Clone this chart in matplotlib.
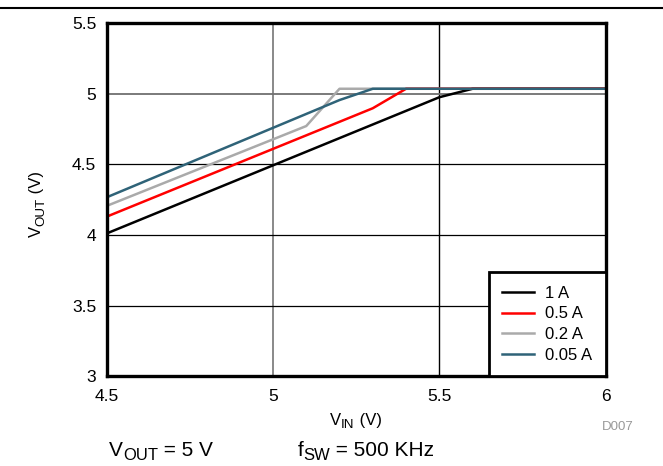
import matplotlib
matplotlib.use("Agg")
import matplotlib.pyplot as plt
from matplotlib.lines import Line2D

plt.rcParams['font.family'] = ['Liberation Sans', 'DejaVu Sans']

# Data
vin_1a = [4.5, 5.5, 5.6, 6.0]
vout_1a = [4.01, 4.975, 5.035, 5.035]
vin_05a = [4.5, 5.3, 5.4, 6.0]
vout_05a = [4.129, 4.897, 5.035, 5.035]
vin_02a = [4.5, 5.1, 5.2, 6.0]
vout_02a = [4.205, 4.771, 5.035, 5.035]
vin_005a = [4.5, 5.2, 5.3, 6.0]
vout_005a = [4.266, 4.955, 5.035, 5.035]
labels = ['1 A', '0.5 A', '0.2 A', '0.05 A']
colors = ['#000000', '#FF0000', '#AAAAAA', '#2F6378']
xticks = [4.5, 5, 5.5, 6]
xticklabels = ['4.5', '5', '5.5', '6']
yticks = [3, 3.5, 4, 4.5, 5, 5.5]
yticklabels = ['3', '3.5', '4', '4.5', '5', '5.5']

W, H = 663, 466
fig = plt.figure(figsize=(W / 100, H / 100), dpi=100)
ax = fig.add_axes([106.6 / W, 1 - 376.1 / H, (605.7 - 106.6) / W, (376.1 - 23.1) / H])

# grid
ax.axvline(5, color='#808080', lw=1.3, zorder=1)
ax.axvline(5.5, color='#000000', lw=1.0, zorder=1)
for yv in [3.5, 4, 4.5]:
    ax.axhline(yv, color='#000000', lw=0.9, zorder=1)
ax.axhline(5, color='#707070', lw=1.3, zorder=1)

series = [(vin_1a, vout_1a), (vin_05a, vout_05a), (vin_02a, vout_02a), (vin_005a, vout_005a)]
z = [3, 4, 2, 5]
for (xs, ys), c, lab, zz in zip(series, colors, labels, z):
    ax.plot(xs, ys, color=c, lw=1.8, label=lab, zorder=zz, solid_capstyle='butt')

ax.set_xlim(4.5, 6)
ax.set_ylim(3, 5.5)
ax.set_xticks(xticks)
ax.set_xticklabels(xticklabels)
ax.set_yticks(yticks)
ax.set_yticklabels(yticklabels)
ax.tick_params(axis='x', length=0, labelsize=12.5, pad=9.5)
ax.tick_params(axis='y', length=0, labelsize=12.5, pad=7.5)
for s in ax.spines.values():
    s.set_linewidth(2.4)
    s.set_color('black')
    s.set_zorder(10)

handles = [Line2D([0], [0], color=c, lw=1.8) for c in colors]
leg = ax.legend(handles, labels, loc='lower right', bbox_to_anchor=(1, 0), borderaxespad=0,
                fancybox=False, framealpha=1, edgecolor='black', fontsize=12,
                handlelength=1.9, handletextpad=0.7, borderpad=0.8, labelspacing=0.34)
leg.get_frame().set_linewidth(2.0)
leg.set_zorder(11)


def rich(x_px, y_px, parts, size, rotation=0, sub_scale=0.8, drop=0.18):
    """parts: list of (text, is_sub). x_px,y_px = start of baseline in pixels (from top-left)."""
    xf = x_px / W
    yf = 1 - y_px / H
    prev = None
    for txt, is_sub in parts:
        fs = size * sub_scale if is_sub else size
        d = drop * size * 1.389 if is_sub else 0.0  # pixels
        if rotation == 0:
            bx, by = xf, yf - d / H
            if prev is None:
                prev = fig.text(bx, by, txt, fontsize=fs, ha='left', va='baseline')
            else:
                prev = ax.annotate(txt, xy=(1, by), xycoords=(prev, 'figure fraction'),
                                   fontsize=fs, ha='left', va='baseline', annotation_clip=False)
        else:
            bx = xf + d / W
            if prev is None:
                prev = fig.text(bx, yf, txt, fontsize=fs, ha='left', va='baseline',
                                rotation=90, rotation_mode='anchor')
            else:
                prev = ax.annotate(txt, xy=(bx, 1), xycoords=('figure fraction', prev),
                                   fontsize=fs, ha='left', va='baseline', rotation=90,
                                   rotation_mode='anchor', annotation_clip=False)


rich(41, 237, [('V', False), ('OUT', True), (' (V)', False)], 12, rotation=90)
rich(330, 425, [('V', False), ('IN', True), (' (V)', False)], 12)
rich(109, 456, [('V', False), ('OUT', True), (' = 5 V', False)], 15)
rich(298, 456, [('f', False), ('SW', True), (' = 500 KHz', False)], 15)

fig.text(634 / W, 1 - 427 / H, 'D007', color='#999999', fontsize=9.5, ha='right', va='center')

fig.add_artist(Line2D([0, 1], [1 - 7.5 / H, 1 - 7.5 / H], color='black', lw=1.5,
                      transform=fig.transFigure))

fig.savefig('out.png', dpi=100)
